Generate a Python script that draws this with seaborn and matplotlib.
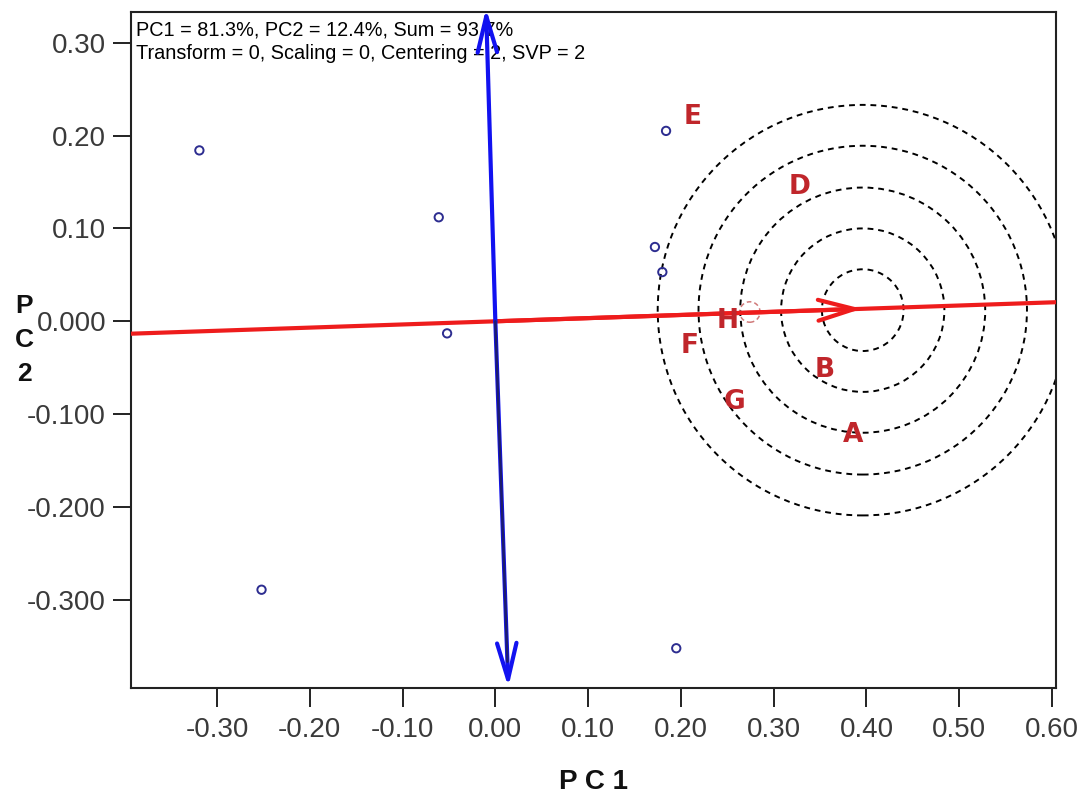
import matplotlib
matplotlib.use("Agg")
import matplotlib.pyplot as plt
from matplotlib.patches import Circle
import numpy as np
import pandas as pd
import seaborn as sns

# Unlabelled entries (blue markers)
pt_x = [-0.319, -0.061, -0.052, 0.184, 0.172, 0.180, -0.252, 0.195]
pt_y = [0.184, 0.112, -0.013, 0.205, 0.080, 0.053, -0.289, -0.352]

# Labelled entries (red letters)
lab_names = ["A", "B", "D", "E", "F", "G", "H"]
lab_x = [0.386, 0.355, 0.328, 0.213, 0.209, 0.258, 0.250]
lab_y = [-0.122, -0.052, 0.145, 0.220, -0.027, -0.087, -0.000]

# Average-environment axis (red) and its orthogonal axis (blue)
aea_slope = 0.034
aea_tip = (0.395, 0.0135)
ortho_top = (-0.010, 0.337)
ortho_bottom = (0.014, -0.394)

# Concentric rings around the ideal point
ring_center = (0.396, 0.012)
ring_radii = [0.044, 0.088, 0.132, 0.177, 0.221]
small_ring_center = (0.2743, 0.010)
small_ring_radius = 0.011

xlim = (-0.3927, 0.6043)
ylim = (-0.3948, 0.333)
xticks = [-0.3, -0.2, -0.1, 0.0, 0.1, 0.2, 0.3, 0.4, 0.5, 0.6]
xticklabels = ["-0.30", "-0.20", "-0.10", "0.00", "0.10", "0.20", "0.30", "0.40", "0.50", "0.60"]
yticks = [0.3, 0.2, 0.1, 0.0, -0.1, -0.2, -0.3]
yticklabels = ["0.30", "0.20", "0.10", "0.000", "-0.100", "-0.200", "-0.300"]

sns.set_theme(style="white")
plt.rcParams["font.family"] = ["Liberation Sans", "DejaVu Sans"]

fig = plt.figure(figsize=(10.81, 7.96), dpi=100)
ax = fig.add_axes([131 / 1081, 1 - 688 / 796, 925 / 1081, 676 / 796])
ax.set_xlim(*xlim)
ax.set_ylim(*ylim)

# Rings
for r in ring_radii:
    ax.add_patch(Circle(ring_center, r, fill=False, ec="black", lw=1.4,
                        ls=(0, (3, 2.5)), zorder=2))
ax.add_patch(Circle(small_ring_center, small_ring_radius, fill=False, ec="#d07a7a",
                    lw=1.1, ls=(0, (3, 2)), zorder=3))

# Red axis across the full width, arrow to the average environment
line_x = np.array(xlim)
red_df = pd.DataFrame({"x": line_x, "y": aea_slope * line_x})
sns.lineplot(data=red_df, x="x", y="y", color="#ee1c1c", lw=3, ax=ax, zorder=4)
ax.annotate("", xy=aea_tip, xytext=(0, 0),
            arrowprops=dict(arrowstyle="->,head_length=2.6,head_width=0.75",
                            color="#ee1c1c", lw=3, shrinkA=0, shrinkB=0,
                            mutation_scale=10), zorder=5)

# Blue orthogonal axis with arrowheads at both ends
for end in (ortho_top, ortho_bottom):
    ax.annotate("", xy=end, xytext=(0, 0), annotation_clip=False,
                arrowprops=dict(arrowstyle="->,head_length=2.6,head_width=0.7",
                                color="#1212f0", lw=3, shrinkA=0, shrinkB=0,
                                mutation_scale=10), zorder=6)
navy_df = pd.DataFrame({"x": [0.0, ortho_bottom[0] * 0.93], "y": [0.0, ortho_bottom[1] * 0.93]})
sns.lineplot(data=navy_df, x="x", y="y", color="#1d1d6e", lw=1.8, ax=ax, zorder=7)

# Markers
pts = pd.DataFrame({"x": pt_x, "y": pt_y})
sns.scatterplot(data=pts, x="x", y="y", marker="o", s=36, facecolors="none",
                edgecolor="#2d2d90", linewidth=1.4, ax=ax, zorder=8)

# Letters
for name, x, y in zip(lab_names, lab_x, lab_y):
    ax.text(x, y, name, color="#c0262b", fontsize=19, fontweight="bold",
            family="DejaVu Sans", ha="center", va="center", zorder=9)

# Header text
ax.text(0.005, 0.987,
        "PC1 = 81.3%, PC2 = 12.4%, Sum = 93.7%\nTransform = 0, Scaling = 0, Centering = 2, SVP = 2",
        transform=ax.transAxes, ha="left", va="top", fontsize=14.3,
        color="black", linespacing=1.25, zorder=1)

# Axes styling
ax.set_xticks(xticks)
ax.set_xticklabels(xticklabels)
ax.set_yticks(yticks)
ax.set_yticklabels(yticklabels)
for lbl in ax.get_xticklabels() + ax.get_yticklabels():
    lbl.set_fontsize(20)
    lbl.set_color("#3a3a3a")
ax.tick_params(axis="x", direction="out", length=14, width=1.4, color="#222222", pad=7,
               bottom=True)
ax.tick_params(axis="y", direction="out", length=13, width=1.4, color="#222222", pad=5,
               left=True)
for sp in ax.spines.values():
    sp.set_visible(True)
    sp.set_color("#222222")
    sp.set_linewidth(1.5)

ax.set_xlabel("")
ax.set_ylabel("")
fig.text((131 + 1056) / 2 / 1081, 1 - 782 / 796, "P C 1", ha="center", va="center",
         fontsize=20, fontweight="bold", color="#111111")
fig.text(24 / 1081, 1 - 340 / 796, "P\nC\n2", ha="center", va="center",
         fontsize=19, fontweight="bold", color="#111111", linespacing=1.55)

fig.savefig("out.png", dpi=100)
